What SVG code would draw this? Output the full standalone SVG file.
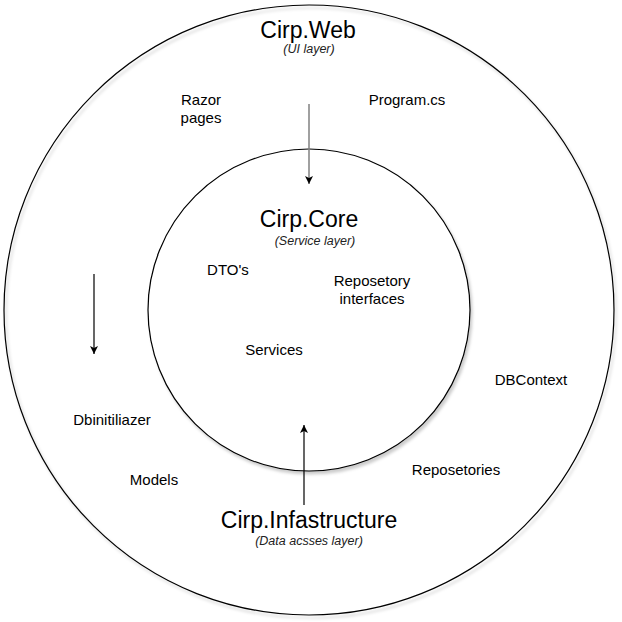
<svg xmlns="http://www.w3.org/2000/svg" width="622" height="622" viewBox="0 0 622 622">
<style>
.t{font-family:"Liberation Sans",Arial,sans-serif;fill:#000;text-anchor:middle}
.lbl{font-size:15px}
.ttl{font-size:23px}
.sub{font-size:12.5px;font-style:italic;fill:#222}
.ring{fill:none;stroke:#000;stroke-width:1.2}
.edge{fill:none;stroke:#000;stroke-width:1.2}
</style>
<defs>
<filter id="sh" x="-10%" y="-10%" width="120%" height="120%">
<feDropShadow dx="2" dy="3" stdDeviation="1.5" flood-color="#000" flood-opacity="0.2"/>
</filter>
<marker id="ah" viewBox="0 0 10 10" refX="10" refY="5" markerWidth="8" markerHeight="8" markerUnits="userSpaceOnUse" orient="auto">
<path d="M0,0 L10,5 L0,10 L2.5,5 Z" fill="#000"/>
</marker>
</defs>
<rect width="622" height="622" fill="#fff"/>
<g id="web-layer">
<circle class="ring" cx="309" cy="310" r="305" filter="url(#sh)"/>
<text class="t ttl" x="308" y="38">Cirp.Web</text>
<text class="t sub" x="309" y="53">(UI layer)</text>
<text class="t lbl" x="201" y="105">Razor</text>
<text class="t lbl" x="201" y="123">pages</text>
<text class="t lbl" x="407" y="105">Program.cs</text>
</g>
<g id="divider">
<line class="edge" x1="4" y1="309" x2="148" y2="309" filter="url(#sh)"/>
<line class="edge" x1="470" y1="309" x2="614" y2="309" filter="url(#sh)"/>
</g>
<g id="infra-layer">
<text class="t lbl" x="531" y="385">DBContext</text>
<text class="t lbl" x="112" y="425">Dbinitiliazer</text>
<text class="t lbl" x="154" y="485">Models</text>
<text class="t lbl" x="456" y="475">Reposetories</text>
<text class="t ttl" x="309" y="528">Cirp.Infastructure</text>
<text class="t sub" x="309" y="545">(Data acsses layer)</text>
</g>
<g id="core-layer">
<circle cx="309" cy="310" r="161" fill="#fff" stroke="#000" stroke-width="1.2" filter="url(#sh)"/>
<text class="t ttl" x="309" y="227">Cirp.Core</text>
<text class="t sub" x="315" y="245">(Service layer)</text>
<text class="t lbl" x="228" y="275">DTO's</text>
<text class="t lbl" x="372" y="286">Reposetory</text>
<text class="t lbl" x="372" y="304">interfaces</text>
<text class="t lbl" x="274" y="355">Services</text>
</g>
<g id="connectors">
<line x1="309" y1="104" x2="309" y2="184" stroke="#808080" stroke-width="1.5" marker-end="url(#ah)"/>
<line class="edge" x1="94" y1="274" x2="94" y2="354" marker-end="url(#ah)"/>
<line class="edge" x1="304" y1="505" x2="304" y2="425" marker-end="url(#ah)"/>
</g>
</svg>
